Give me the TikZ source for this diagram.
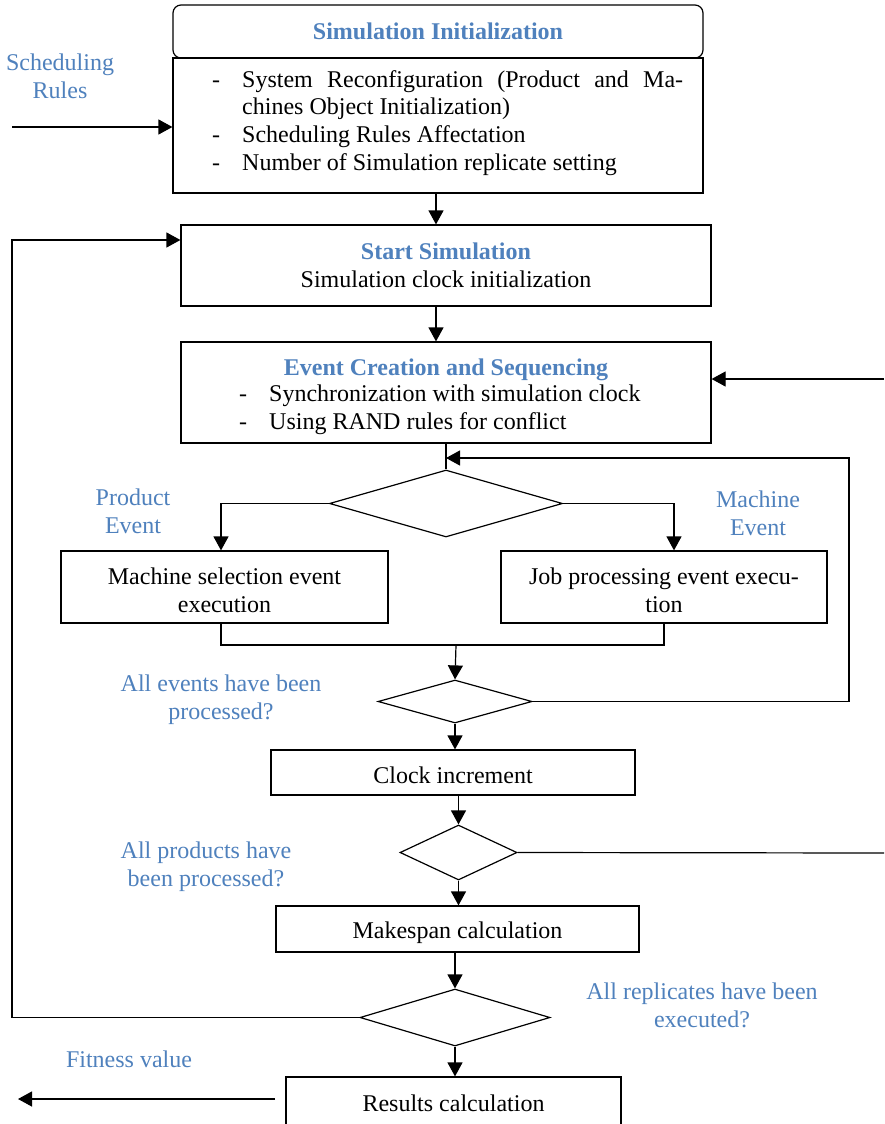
\documentclass[tikz,border=0pt]{standalone}
\usepackage{fontspec}
\setmainfont{Liberation Serif}
\usetikzlibrary{arrows.meta,shapes.geometric,calc}
\definecolor{lblue}{RGB}{79,129,189}
\begin{document}
\begin{tikzpicture}[x=1pt,y=-1pt,
  every node/.style={font=\fontsize{24}{28}\selectfont},
  box/.style={draw,line width=1.2pt,inner sep=0pt,align=center},
  dia/.style={draw,line width=1.2pt,diamond,inner sep=0pt},
  ln/.style={line width=1.2pt},
  arr/.style={line width=1.2pt,-{Triangle[length=14pt,width=15pt]}},
  blu/.style={text=lblue,align=center},
  ttl/.style={text=lblue,font=\fontsize{24}{28}\selectfont\bfseries}]
\useasboundingbox[fill=white] (0,0) rectangle (884,1124);
\begin{scope}[overlay]
% boxes
\node[box,rounded corners=8pt,minimum width=530pt,minimum height=53pt] (inith) at (438,31.5) {};
\node[ttl] (initt) at (438,31) {Simulation Initialization};
\node[box,fill=white,minimum width=530pt,minimum height=135pt] (initb) at (438,125.5) {};
\node[anchor=base] (d1a) at (216,87) {-};
\node[anchor=base west,inner sep=0pt] (t1a) at (242,87) {\makebox[441pt][s]{System Reconfiguration (Product and Ma-}};
\node[anchor=base west,inner sep=0pt] (t1b) at (242,114) {chines Object Initialization)};
\node[anchor=base] (d1b) at (216,142) {-};
\node[anchor=base west,inner sep=0pt] (t1c) at (242,142) {Scheduling Rules Affectation};
\node[anchor=base] (d1c) at (216,170) {-};
\node[anchor=base west,inner sep=0pt] (t1d) at (242,170) {Number of Simulation replicate setting};

\node[box,minimum width=530pt,minimum height=81pt] (start) at (446,265.5)
  {{\color{lblue}\bfseries Start Simulation}\\Simulation clock initialization};

\node[box,minimum width=530pt,minimum height=101pt] (event) at (446,392.5) {};
\node[ttl] (evt) at (446,370) {Event Creation and Sequencing};
\node[anchor=base] (d2a) at (243,401) {-};
\node[anchor=base west,inner sep=0pt] (t2a) at (269,401) {Synchronization with simulation clock};
\node[anchor=base] (d2b) at (243,429) {-};
\node[anchor=base west,inner sep=0pt] (t2b) at (269,429) {Using RAND rules for conflict};

\node[dia,minimum width=233pt,minimum height=67pt] (dA) at (446,503.5) {};
\node[box,minimum width=327pt,minimum height=72pt] (ms) at (224.5,587) {\rule{0pt}{24pt}Machine selection event\\execution};
\node[box,minimum width=326pt,minimum height=72pt] (job) at (664,587) {\rule{0pt}{24pt}Job processing event execu-\\tion};
\node[dia,minimum width=154pt,minimum height=43pt] (dB) at (455,701.5) {};
\node[box,minimum width=364pt,minimum height=45pt,text height=21pt,text depth=0pt] (clk) at (453,772.5) {Clock increment};
\node[dia,minimum width=117pt,minimum height=55pt] (dC) at (458.5,852.5) {};
\node[box,minimum width=363pt,minimum height=46pt,text height=18pt,text depth=0pt] (mk) at (457.5,929) {Makespan calculation};
\node[dia,minimum width=190pt,minimum height=57pt] (dD) at (455,1017.5) {};
\node[box,minimum width=335pt,minimum height=52pt] (res) at (453.5,1103) {Results calculation};

% labels
\node[blu] (lsr) at (60,76) {Scheduling\\Rules};
\node[blu] (lpe) at (133,511) {Product\\Event};
\node[blu] (lme) at (758,513) {Machine\\Event};
\node[blu] (lae) at (221,700) {All events have been\\processed?};
\node[blu] (lap) at (206,867) {All products have\\been processed?};
\node[blu] (lar) at (702,1005) {All replicates have been\\executed?};
\node[blu] (lfv) at (129,1059) {Fitness value};

% coordinates
\coordinate (c1) at (436,0);
\coordinate (s0) at (12,127);
\coordinate (r1) at (884,379);
\coordinate (fb) at (849,458);
\coordinate (mrg) at (456,645);
\coordinate (r2) at (884,853);
\coordinate (l1) at (12,240);
\coordinate (f0) at (18,1099);
\coordinate (f1) at (275,1099);
\coordinate (jx) at (674,0);
\coordinate (mx) at (221,0);

% connectors
\draw[arr] (s0) -- (s0 -| initb.west);
\draw[arr] (initb.south -| c1) -- (start.north -| c1);
\draw[arr] (start.south -| c1) -- (event.north -| c1);
\draw[arr] (r1) -- (r1 -| event.east);
\draw[ln] (event.south -| dA.north) -- (dA.north);
\draw[arr] (dB.east) -| (fb) -- (fb -| dA.north);
\draw[arr] (dA.west) -| (ms.north -| mx);
\draw[arr] (dA.east) -| (job.north -| jx);
\draw[ln] (ms.south -| mx) |- (mrg);
\draw[ln] (job.south) |- (mrg);
\draw[arr] (mrg) -- (dB.north);
\draw[arr] (dB.south) -- (dB.south |- clk.north);
\draw[arr] (clk.south -| dC.north) -- (dC.north);
\draw[ln] (dC.east) -- (r2);
\draw[arr] (dC.south) -- (dC.south |- mk.north);
\draw[arr] (mk.south -| dD.north) -- (dD.north);
\draw[arr] (dD.west) -| (l1) -- (l1 -| start.west);
\draw[arr] (dD.south) -- (dD.south |- res.north);
\draw[arr] (f1) -- (f0);
\end{scope}
\end{tikzpicture}
\end{document}
